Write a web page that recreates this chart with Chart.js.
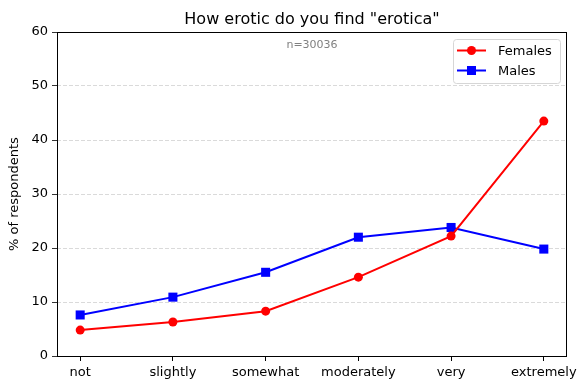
<!DOCTYPE html>
<html>
<head>
<meta charset="utf-8">
<script src="https://cdn.jsdelivr.net/npm/chart.js@4.4.0/dist/chart.umd.min.js"></script>
<style>
  html, body { margin: 0; padding: 0; background: #fff; }
  #wrap { width: 587px; height: 390px; }
</style>
</head>
<body>
<div id="wrap"><canvas id="erotica"></canvas></div>
<script>
var categories = ["not", "slightly", "somewhat", "moderately", "very", "extremely"];
var females = [4.8, 6.3, 8.3, 14.6, 22.2, 43.5];
var males = [7.6, 10.9, 15.5, 22.0, 23.8, 19.8];
var yTicks = [0, 10, 20, 30, 40, 50, 60];
var chartTitle = 'How erotic do you find "erotica"';
var sampleNote = "n=30036";

var FONT = "'DejaVu Sans', sans-serif";

function points(values) {
    return values.map(function (v, i) { return { x: i, y: v }; });
}

// title over the axes, box round the plot, the n= note and the legend inside
var extras = {
    id: 'extras',
    afterDraw: function (chart) {
        var ctx = chart.ctx, a = chart.chartArea;
        var mid = (a.left + a.right) / 2;
        ctx.save();
        ctx.strokeStyle = '#000';
        ctx.lineWidth = 1;
        ctx.strokeRect(a.left + 0.5, a.top + 0.5, a.right - a.left - 1, a.bottom - a.top);

        ctx.fillStyle = '#000';
        ctx.font = '16px ' + FONT;
        ctx.textAlign = 'center';
        ctx.textBaseline = 'alphabetic';
        ctx.fillText(chartTitle, mid, 24);

        ctx.fillStyle = '#808080';
        ctx.font = '11px ' + FONT;
        ctx.textBaseline = 'middle';
        ctx.fillText(sampleNote, mid, a.top + 13);

        // legend
        var bx = a.right - 114, by = a.top + 7, bw = 107, bh = 44;
        ctx.fillStyle = 'rgba(255,255,255,0.8)';
        ctx.strokeStyle = '#d6d6d6';
        ctx.lineWidth = 1;
        ctx.beginPath();
        ctx.roundRect(bx + 0.5, by + 0.5, bw, bh, 3);
        ctx.fill();
        ctx.stroke();
        chart.data.datasets.forEach(function (ds, i) {
            var y = by + 11.5 + i * 20;
            ctx.strokeStyle = ds.borderColor;
            ctx.lineWidth = 2;
            ctx.beginPath();
            ctx.moveTo(bx + 4, y);
            ctx.lineTo(bx + 33, y);
            ctx.stroke();
            ctx.fillStyle = ds.backgroundColor;
            if (ds.pointStyle === 'rect') {
                ctx.fillRect(bx + 18.5 - 4.5, y - 4.5, 9, 9);
            } else {
                ctx.beginPath();
                ctx.arc(bx + 18.5, y, 4.5, 0, Math.PI * 2);
                ctx.fill();
            }
            ctx.fillStyle = '#000';
            ctx.font = '13px ' + FONT;
            ctx.textAlign = 'left';
            ctx.fillText(ds.label, bx + 45, y + 1);
        });
        ctx.restore();
    }
};

var ctx = document.getElementById('erotica').getContext('2d');
var chart = new Chart(ctx, {
    type: 'line',
    data: {
        datasets: [{
            label: "Females",
            data: points(females),
            borderColor: '#ff0000',
            backgroundColor: '#ff0000',
            borderWidth: 2,
            pointStyle: 'circle',
            pointRadius: 4.5,
            pointHoverRadius: 4.5,
            pointBorderWidth: 0
        }, {
            label: "Males",
            data: points(males),
            borderColor: '#0000ff',
            backgroundColor: '#0000ff',
            borderWidth: 2,
            pointStyle: 'rect',
            pointRadius: 6.4,
            pointHoverRadius: 6.4,
            pointBorderWidth: 0
        }]
    },
    options: {
        responsive: true,
        maintainAspectRatio: false,
        animation: false,
        layout: { padding: { left: 0, right: 20, top: 32, bottom: 0 } },
        plugins: {
            legend: { display: false },
            tooltip: { enabled: false },
            title: { display: false }
        },
        scales: {
            x: {
                type: 'linear',
                min: -0.25,
                max: 5.25,
                afterBuildTicks: function (scale) {
                    scale.ticks = categories.map(function (c, i) { return { value: i }; });
                },
                afterFit: function (scale) { scale.height = 34; },
                ticks: {
                    color: '#000',
                    font: { family: FONT, size: 13 },
                    padding: 4,
                    maxRotation: 0,
                    autoSkip: false,
                    callback: function (v) { return categories[v]; }
                },
                grid: {
                    drawOnChartArea: false,
                    drawTicks: true,
                    tickLength: 5,
                    tickColor: '#000'
                },
                border: { display: false }
            },
            y: {
                min: 0,
                max: 60,
                afterBuildTicks: function (scale) {
                    scale.ticks = yTicks.map(function (v) { return { value: v }; });
                },
                afterFit: function (scale) { scale.width = 57; },
                ticks: {
                    color: '#000',
                    font: { family: FONT, size: 13 },
                    padding: 4
                },
                title: {
                    display: true,
                    text: '% of respondents',
                    color: '#000',
                    font: { family: FONT, size: 13 },
                    padding: { top: 7, bottom: 0 }
                },
                grid: {
                    color: function (c) {
                        return (c.tick && (c.tick.value === 0 || c.tick.value === 60)) ? 'rgba(0,0,0,0)' : '#d0d0d0';
                    },
                    tickBorderDash: [],
                    tickColor: '#000',
                    tickLength: 5,
                    lineWidth: 0.8
                },
                border: { display: false, dash: [4, 2] }
            }
        }
    },
    plugins: [extras]
});
</script>
</body>
</html>
